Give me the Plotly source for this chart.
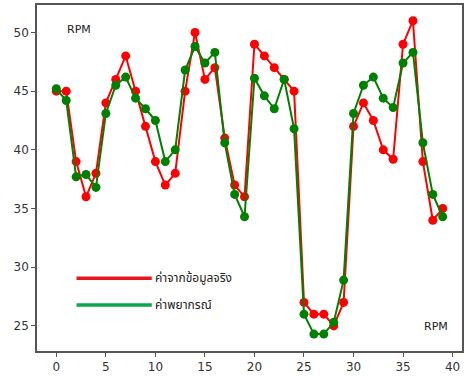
import plotly.graph_objects as go

x_index = list(range(40))
actual_rpm = [45, 45, 39, 36, 38, 44, 46, 48, 45, 42,
              39, 37, 38, 45, 50, 46, 47, 41, 37, 36,
              49, 48, 47, 46, 45, 27, 26, 26, 25, 27,
              42, 44, 42.5, 40, 39.2, 49, 51, 39, 34, 35]
predicted_rpm = [45.2, 44.2, 37.7, 37.9, 36.8, 43.1, 45.5, 46.2, 44.4, 43.5,
                 42.5, 39.0, 40.0, 46.8, 48.8, 47.4, 48.3, 40.6, 36.2, 34.3,
                 46.1, 44.6, 43.5, 46.0, 41.8, 26.0, 24.3, 24.3, 25.3, 28.9,
                 43.1, 45.5, 46.2, 44.4, 43.6, 47.4, 48.3, 40.6, 36.2, 34.3]
x_ticks = [0, 5, 10, 15, 20, 25, 30, 35, 40]
y_ticks = [25, 30, 35, 40, 45, 50]
legend_labels = ["ค่าจากข้อมูลจริง", "ค่าพยากรณ์"]
legend_colors = ["#e8141b", "#0aa64c"]

fig = go.Figure()
fig.add_trace(go.Scatter(x=x_index, y=actual_rpm, mode="lines+markers",
                         line=dict(color="#ff0000", width=2),
                         marker=dict(color="#ff0000", size=9), showlegend=False))
fig.add_trace(go.Scatter(x=x_index, y=predicted_rpm, mode="lines+markers",
                         line=dict(color="#008000", width=2),
                         marker=dict(color="#008000", size=9), showlegend=False))

# custom legend
for i, (lab, col) in enumerate(zip(legend_labels, legend_colors)):
    yp = [0.21, 0.133][i]
    fig.add_shape(type="line", xref="paper", yref="paper",
                  x0=0.093, x1=0.27, y0=yp, y1=yp,
                  line=dict(color=col, width=3.5))
    fig.add_annotation(text=lab, xref="paper", yref="paper", x=0.272, y=yp,
                       xanchor="left", yanchor="middle", showarrow=False,
                       font=dict(size=12, color="#222", family="Noto Sans Thai, Noto Sans, DejaVu Sans"))

fig.add_annotation(text="RPM", xref="paper", yref="paper", x=0.065, y=0.93,
                   xanchor="left", yanchor="middle", showarrow=False,
                   font=dict(size=11, color="#222", family="DejaVu Sans"))
fig.add_annotation(text="RPM", xref="paper", yref="paper", x=0.905, y=0.07,
                   xanchor="left", yanchor="middle", showarrow=False,
                   font=dict(size=11, color="#222", family="DejaVu Sans"))

fig.update_layout(
    width=466, height=376,
    margin=dict(l=37, r=2, t=5, b=24),
    plot_bgcolor="white", paper_bgcolor="white",
    font=dict(family="DejaVu Sans", size=12, color="#333"),
    showlegend=False,
)
fig.update_xaxes(range=[-1.95, 40.95], tickvals=x_ticks, showgrid=False, zeroline=False,
                 showline=True, linecolor="#555", linewidth=1.5, mirror=True,
                 ticks="outside", ticklen=4, tickcolor="#555")
fig.update_yaxes(range=[22.86, 52.34], tickvals=y_ticks, showgrid=False, zeroline=False,
                 showline=True, linecolor="#555", linewidth=1.5, mirror=True,
                 ticks="outside", ticklen=4, tickcolor="#555")

fig.write_html("out.html", config={"displayModeBar": False},
               post_script="document.body.style.margin='0';document.body.style.overflow='hidden';")
